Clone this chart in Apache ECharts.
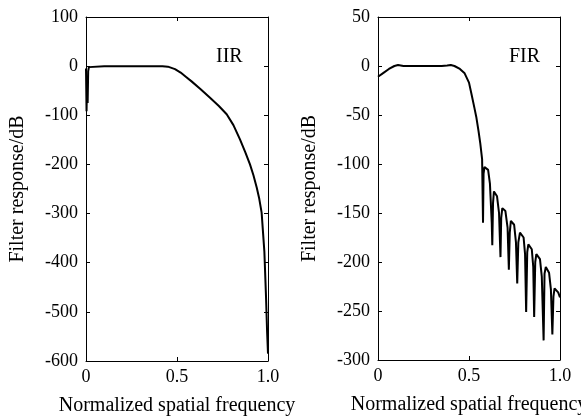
<!DOCTYPE html>
<html>
<head>
<meta charset="utf-8">
<script src="https://cdn.jsdelivr.net/npm/echarts@6/dist/echarts.min.js"></script>
<style>
html, body { margin: 0; padding: 0; background: #fff; }
#chart { width: 581px; height: 417px; }
</style>
</head>
<body>
<div id="chart"></div>
<script>
// IIR response
const iirX = [0, 0.003, 0.006, 0.009, 0.012, 0.016, 0.02, 0.1, 0.2, 0.3, 0.42, 0.45, 0.489, 0.52, 0.55, 0.58, 0.63, 0.68, 0.73, 0.773, 0.81, 0.846, 0.875, 0.901, 0.92, 0.938, 0.952, 0.965, 0.98, 0.989, 0.995, 1.0];
const iirY = [-5, -92, -25, -75, -10, -2, 0, 0, 0, 0, 0, -1, -6, -13, -22, -31, -47, -64, -81, -98, -120, -149, -175, -200, -222, -247, -270, -298, -377, -468, -540, -585];

// FIR response
const firX = [0, 0.03, 0.06, 0.09, 0.11, 0.14, 0.25, 0.35, 0.38, 0.40, 0.42, 0.45, 0.476, 0.50, 0.513, 0.53, 0.54, 0.552, 0.562, 0.572,
  0.577, 0.580, 0.585, 0.595, 0.605, 0.615, 0.625, 0.628, 0.632, 0.637, 0.644, 0.654, 0.665, 0.673, 0.677, 0.683, 0.691, 0.70, 0.712,
  0.719, 0.724, 0.73, 0.737, 0.748, 0.758, 0.765, 0.771, 0.78, 0.79, 0.80, 0.808, 0.814, 0.82, 0.826, 0.834, 0.845, 0.853, 0.858,
  0.864, 0.87, 0.879, 0.89, 0.90, 0.91, 0.915, 0.922, 0.93, 0.94, 0.95, 0.958, 0.964, 0.97, 0.977, 0.99, 1.0];
const firY = [-11, -7, -3, 0, 1, 0, 0, 0, 0.5, 1, 0, -3, -7.5, -17, -28, -43, -52, -66, -79, -95,
  -160, -110, -103, -101, -106, -120, -160, -183, -140, -128, -127, -133, -150, -195, -155, -145, -144, -148, -165,
  -208, -170, -158, -157, -162, -180, -222, -180, -170, -169, -175, -192, -251, -190, -182, -181, -187, -205, -256,
  -200, -192, -191, -197, -215, -280, -212, -205, -205, -211, -228, -274, -235, -227, -226, -231, -236];

const xTicks = [0, 0.5, 1];
const iirTicks = [-600, -500, -400, -300, -200, -100, 0, 100];
const firTicks = [-300, -250, -200, -150, -100, -50, 0, 50];

const font = 'Liberation Serif';
const pair = (xs, ys) => xs.map((x, i) => [x, ys[i]]);

function xAxes(gridIndex) {
  const base = {
    type: 'value', gridIndex: gridIndex, min: xTicks[0], max: xTicks[2], interval: 0.5,
    axisLine: { show: true, onZero: false, lineStyle: { color: '#000', width: 1 } },
    axisTick: { show: true, inside: true, length: 4, lineStyle: { color: '#000' } },
    splitLine: { show: false }
  };
  return [
    Object.assign({}, base, {
      position: 'bottom',
      name: 'Normalized spatial frequency', nameLocation: 'middle', nameGap: 35,
      nameTextStyle: { fontFamily: font, fontSize: 20, color: '#000' },
      axisLabel: { fontFamily: font, fontSize: 18, color: '#000', margin: 7,
        formatter: v => v === 1 ? '1.0' : String(v) }
    }),
    Object.assign({}, base, { position: 'top', axisLabel: { show: false } })
  ];
}

function yAxes(gridIndex, ticks) {
  const base = {
    type: 'value', gridIndex: gridIndex, min: ticks[0], max: ticks[ticks.length - 1],
    interval: ticks[1] - ticks[0],
    axisLine: { show: true, onZero: false, lineStyle: { color: '#000', width: 1 } },
    axisTick: { show: true, inside: true, length: 4, lineStyle: { color: '#000' } },
    splitLine: { show: false }
  };
  return [
    Object.assign({}, base, {
      position: 'left',
      name: 'Filter response/dB', nameLocation: 'middle', nameGap: 58, nameRotate: 90,
      nameTextStyle: { fontFamily: font, fontSize: 20, color: '#000' },
      axisLabel: { fontFamily: font, fontSize: 18, color: '#000', margin: 8 }
    }),
    Object.assign({}, base, { position: 'right', axisLabel: { show: false } })
  ];
}

let myChart = echarts.init(document.getElementById('chart'));
myChart.setOption({
  animation: false,
  backgroundColor: '#fff',
  title: [
    { text: 'IIR', left: 211, top: 42, textStyle: { fontFamily: font, fontSize: 20, fontWeight: 'normal', color: '#000' } },
    { text: 'FIR', left: 504, top: 42, textStyle: { fontFamily: font, fontSize: 20, fontWeight: 'normal', color: '#000' } }
  ],
  grid: [
    { left: 86, top: 17, width: 182, height: 344, outerBoundsMode: 'none', containLabel: false },
    { left: 378, top: 17, width: 182, height: 343, outerBoundsMode: 'none', containLabel: false }
  ],
  xAxis: [].concat(xAxes(0), xAxes(1)),
  yAxis: [].concat(yAxes(0, iirTicks), yAxes(1, firTicks)),
  series: [
    {
      name: 'IIR', type: 'line', xAxisIndex: 0, yAxisIndex: 0,
      data: pair(iirX, iirY), showSymbol: false, smooth: false,
      lineStyle: { color: '#000', width: 2 }
    },
    {
      name: 'FIR', type: 'line', xAxisIndex: 2, yAxisIndex: 2,
      data: pair(firX, firY), showSymbol: false, smooth: false,
      lineStyle: { color: '#000', width: 2 }
    }
  ]
});
</script>
</body>
</html>
